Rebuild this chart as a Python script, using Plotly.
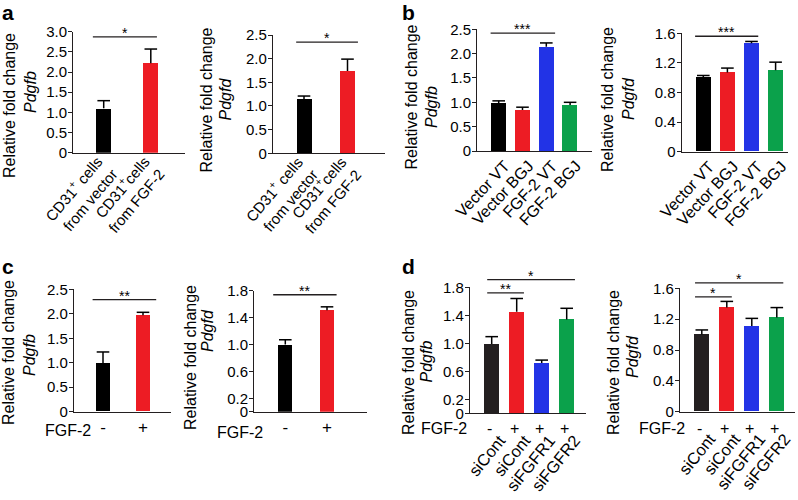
import plotly.graph_objects as go

W, H = 798, 500
FONT = "Arial, Liberation Sans, Helvetica, sans-serif"

# ---------------- data ----------------
a_labels = ["CD31<sup>+</sup> cells<br>from vector", "CD31<sup>+</sup>cells<br>from FGF-2"]
a_colors = ["#000000", "#ED1C24"]
a_pdgfb = [1.10, 2.22]
a_pdgfb_err = [0.19, 0.35]
a_pdgfd = [1.14, 1.74]
a_pdgfd_err = [0.07, 0.25]

b_labels = ["Vector VT", "Vector BGJ", "FGF-2 VT", "FGF-2 BGJ"]
b_colors = ["#000000", "#ED1C24", "#2233E6", "#0BA14B"]
b_pdgfb = [0.98, 0.84, 2.14, 0.945]
b_pdgfb_err = [0.05, 0.06, 0.08, 0.055]
b_pdgfd = [1.00, 1.07, 1.465, 1.10]
b_pdgfd_err = [0.03, 0.06, 0.025, 0.11]

c_labels = ["-", "+"]
c_colors = ["#000000", "#ED1C24"]
c_pdgfb = [0.99, 1.97]
c_pdgfb_err = [0.23, 0.06]
c_pdgfd = [1.00, 1.51]
c_pdgfd_err = [0.07, 0.05]

d_fgf2 = ["-", "+", "+", "+"]
d_labels = ["siCont", "siCont", "siFGFR1", "siFGFR2"]
d_colors = ["#231F20", "#ED1C24", "#2233E6", "#0BA14B"]
d_pdgfb = [0.99, 1.45, 0.72, 1.34]
d_pdgfb_err = [0.105, 0.19, 0.04, 0.16]
d_pdgfd = [1.00, 1.35, 1.11, 1.22]
d_pdgfd_err = [0.06, 0.08, 0.10, 0.13]

ticks_30 = [0, 0.5, 1.0, 1.5, 2.0, 2.5, 3.0]
ticks_25 = [0, 0.5, 1.0, 1.5, 2.0, 2.5]
ticks_16 = [0, 0.4, 0.8, 1.2, 1.6]
ticks_18 = [0, 0.2, 0.6, 1.0, 1.4, 1.8]

def fmt(v):
    return "0" if v == 0 else f"{v:.1f}"

# ---------------- layout geometry (pixels) ----------------
panels = [
    dict(vals=a_pdgfb, errs=a_pdgfb_err, cols=a_colors, labs=a_labels, ticks=ticks_30, gene="Pdgfb",
         xl=73.3, xr=185, yt=31.7, yb=152.7, c0=103.7, s=47.1, bw=0.31, angle=-50, tsize=15,
         stand=-7, shift=-6,
         sig=[(-0.23, 1.13, 2.87, "*")], t1=(10, 106), t2=(31, 92)),
    dict(vals=a_pdgfd, errs=a_pdgfd_err, cols=a_colors, labs=a_labels, ticks=ticks_25, gene="Pdgfd",
         xl=273, xr=385, yt=35, yb=153.3, c0=304, s=43.5, bw=0.345, angle=-50, tsize=15,
         stand=-7, shift=-6,
         sig=[(-0.18, 1.24, 2.35, "*")], t1=(206.5, 100), t2=(225.5, 99)),
    dict(vals=b_pdgfb, errs=b_pdgfb_err, cols=b_colors, labs=b_labels, ticks=ticks_25, gene="Pdgfb",
         xl=477.3, xr=591.7, yt=29.3, yb=151, c0=498.7, s=23.8, bw=0.63, angle=-47, tsize=16,
         stand=-2, shift=6,
         sig=[(-0.34, 2.37, 2.42, "***")], t1=(411.5, 97), t2=(432, 107)),
    dict(vals=b_pdgfd, errs=b_pdgfd_err, cols=b_colors, labs=b_labels, ticks=ticks_16, gene="Pdgfd",
         xl=681.7, xr=788, yt=33.3, yb=151.7, c0=703.3, s=24.1, bw=0.62, angle=-47, tsize=16,
         stand=-2, shift=6,
         sig=[(-0.34, 2.28, 1.56, "***")], t1=(608, 100), t2=(629, 99)),
    dict(vals=c_pdgfb, errs=c_pdgfb_err, cols=c_colors, labs=c_labels, ticks=ticks_25, gene="Pdgfb",
         xl=74, xr=171, yt=289.3, yb=411.7, c0=103, s=40, bw=0.35, angle=0, tsize=17,
         stand=0, shift=0,
         sig=[(-0.26, 1.33, 2.29, "**")], t1=(8, 353), t2=(29, 355), fgf=(93, 430)),
    dict(vals=c_pdgfd, errs=c_pdgfd_err, cols=c_colors, labs=c_labels, ticks=ticks_18, gene="Pdgfd",
         xl=254.3, xr=366.7, yt=290.7, yb=411.7, c0=285.3, s=41.7, bw=0.34, angle=0, tsize=17,
         stand=0, shift=0,
         sig=[(-0.29, 1.23, 1.74, "**")], t1=(190, 358), t2=(207, 331), fgf=(265, 432.7)),
    dict(vals=d_pdgfb, errs=d_pdgfb_err, cols=d_colors, labs=d_labels, ticks=ticks_18, gene="Pdgfb",
         xl=470, xr=586, yt=287.3, yb=413.3, c0=491.7, s=25, bw=0.59, angle=-51, tsize=16.5,
         stand=10, shift=8,
         sig=[(-0.18, 3.33, 1.91, "*"), (-0.18, 1.29, 1.72, "**")], t1=(408, 363), t2=(425.5, 362),
         fgf=(469, 428), pm=428),
    dict(vals=d_pdgfd, errs=d_pdgfd_err, cols=d_colors, labs=d_labels, ticks=ticks_16, gene="Pdgfd",
         xl=680, xr=795, yt=288.3, yb=411.7, c0=701.8, s=25, bw=0.6, angle=-51, tsize=16.5,
         stand=10, shift=8,
         sig=[(-0.27, 3.26, 1.67, "*"), (-0.27, 1.20, 1.49, "*")], t1=(613, 363), t2=(632, 357),
         fgf=(686.7, 428), pm=428),
]
panel_letters = [("a", 0, 12), ("b", 400, 12), ("c", 0, 266), ("d", 400, 266)]

fig = go.Figure()
shapes = []
annotations = []
AX = "#231F20"

def px2x(px):
    return px / W

def py2y(py):
    return 1 - py / H

for k, p in enumerate(panels):
    idx = "" if k == 0 else str(k + 1)
    xa, ya = "x" + idx, "y" + idx
    n = len(p["vals"])
    pos = list(range(n))
    ymax = p["ticks"][-1]
    fig.add_trace(go.Bar(x=pos, y=p["vals"], width=p["bw"], marker=dict(color=p["cols"], line=dict(width=0)),
                         xaxis=xa, yaxis=ya, showlegend=False))
    ex, ey = [], []
    for i in range(n):
        ex += [pos[i], pos[i], None]
        ey += [p["vals"][i], p["vals"][i] + p["errs"][i], None]
    fig.add_trace(go.Scatter(x=ex, y=ey, mode="lines", line=dict(color="#000", width=1.5),
                             xaxis=xa, yaxis=ya, showlegend=False, hoverinfo="skip"))
    fig.add_trace(go.Scatter(x=pos, y=[v + e for v, e in zip(p["vals"], p["errs"])], mode="markers",
                             marker=dict(symbol="line-ew", size=9, line=dict(color="#000", width=1.5)),
                             xaxis=xa, yaxis=ya, showlegend=False, hoverinfo="skip", cliponaxis=False))
    rng = [(p["xl"] - p["c0"]) / p["s"], (p["xr"] - p["c0"]) / p["s"]]
    xdict = dict(domain=[px2x(p["xl"]), px2x(p["xr"])], range=rng, anchor=ya, showline=True,
                 linecolor=AX, linewidth=1.3, ticks="", showgrid=False, zeroline=False, automargin=False,
                 tickvals=pos, ticktext=p["labs"], tickangle=p["angle"],
                 ticklabelstandoff=p["stand"], ticklabelshift=p["shift"],
                 tickfont=dict(family=FONT, size=p["tsize"], color="#000"))
    ydict = dict(domain=[py2y(p["yb"]), py2y(p["yt"])], range=[0, ymax], anchor=xa, showline=True,
                 linecolor=AX, linewidth=1.3, ticks="outside", ticklen=4, tickwidth=1.3, tickcolor=AX,
                 showgrid=False, zeroline=False, automargin=False, ticklabelstandoff=-2,
                 tickvals=p["ticks"], ticktext=[fmt(t) for t in p["ticks"]],
                 tickfont=dict(family=FONT, size=15, color="#000"))
    fig.update_layout(**{("xaxis" + idx): xdict, ("yaxis" + idx): ydict})

    def dx(v, p=p):
        return px2x(p["c0"] + v * p["s"])

    def dy(v, p=p, ymax=ymax):
        return py2y(p["yb"] - v / ymax * (p["yb"] - p["yt"]))

    for (x0, x1, yv, lab) in p["sig"]:
        shapes.append(dict(type="line", xref="paper", yref="paper", x0=dx(x0), x1=dx(x1), y0=dy(yv), y1=dy(yv),
                           line=dict(color=AX, width=1.3)))
        annotations.append(dict(xref="paper", yref="paper", x=(dx(x0) + dx(x1)) / 2, y=dy(yv) + 4 / H,
                                text=lab, showarrow=False, xanchor="center", yanchor="middle",
                                font=dict(family=FONT, size=14, color="#000")))
    annotations.append(dict(xref="paper", yref="paper", x=px2x(p["t1"][0]), y=py2y(p["t1"][1]),
                            text="Relative fold change", textangle=-90, showarrow=False,
                            xanchor="center", yanchor="middle", font=dict(family=FONT, size=16, color="#000")))
    annotations.append(dict(xref="paper", yref="paper", x=px2x(p["t2"][0]), y=py2y(p["t2"][1]),
                            text="<i>" + p["gene"] + "</i>", textangle=-90, showarrow=False,
                            xanchor="center", yanchor="middle", font=dict(family=FONT, size=16, color="#000")))
    if "fgf" in p:
        annotations.append(dict(xref="paper", yref="paper", x=px2x(p["fgf"][0]), y=py2y(p["fgf"][1]),
                                text="FGF-2", showarrow=False, xanchor="right", yanchor="middle",
                                font=dict(family=FONT, size=16, color="#000")))
    if "pm" in p:
        for i, s in enumerate(d_fgf2):
            annotations.append(dict(xref=xa, yref="paper", x=pos[i], y=py2y(p["pm"]), text=s, showarrow=False,
                                    xanchor="center", yanchor="middle", xshift=-2,
                                    font=dict(family=FONT, size=16, color="#000")))

for (lt, x, y) in panel_letters:
    annotations.append(dict(xref="paper", yref="paper", x=px2x(x), y=py2y(y), text="<b>" + lt + "</b>",
                            showarrow=False, xanchor="left", yanchor="middle",
                            font=dict(family=FONT, size=21, color="#000")))

fig.update_layout(width=W, height=H, margin=dict(l=0, r=0, t=0, b=0, autoexpand=False), paper_bgcolor="white",
                  plot_bgcolor="white", shapes=shapes, annotations=annotations, bargap=0,
                  font=dict(family=FONT, color="#000"))
fig.write_html("out.html", config={"displayModeBar": False},
               post_script="document.body.style.margin='0px';document.body.style.overflow='hidden';")
